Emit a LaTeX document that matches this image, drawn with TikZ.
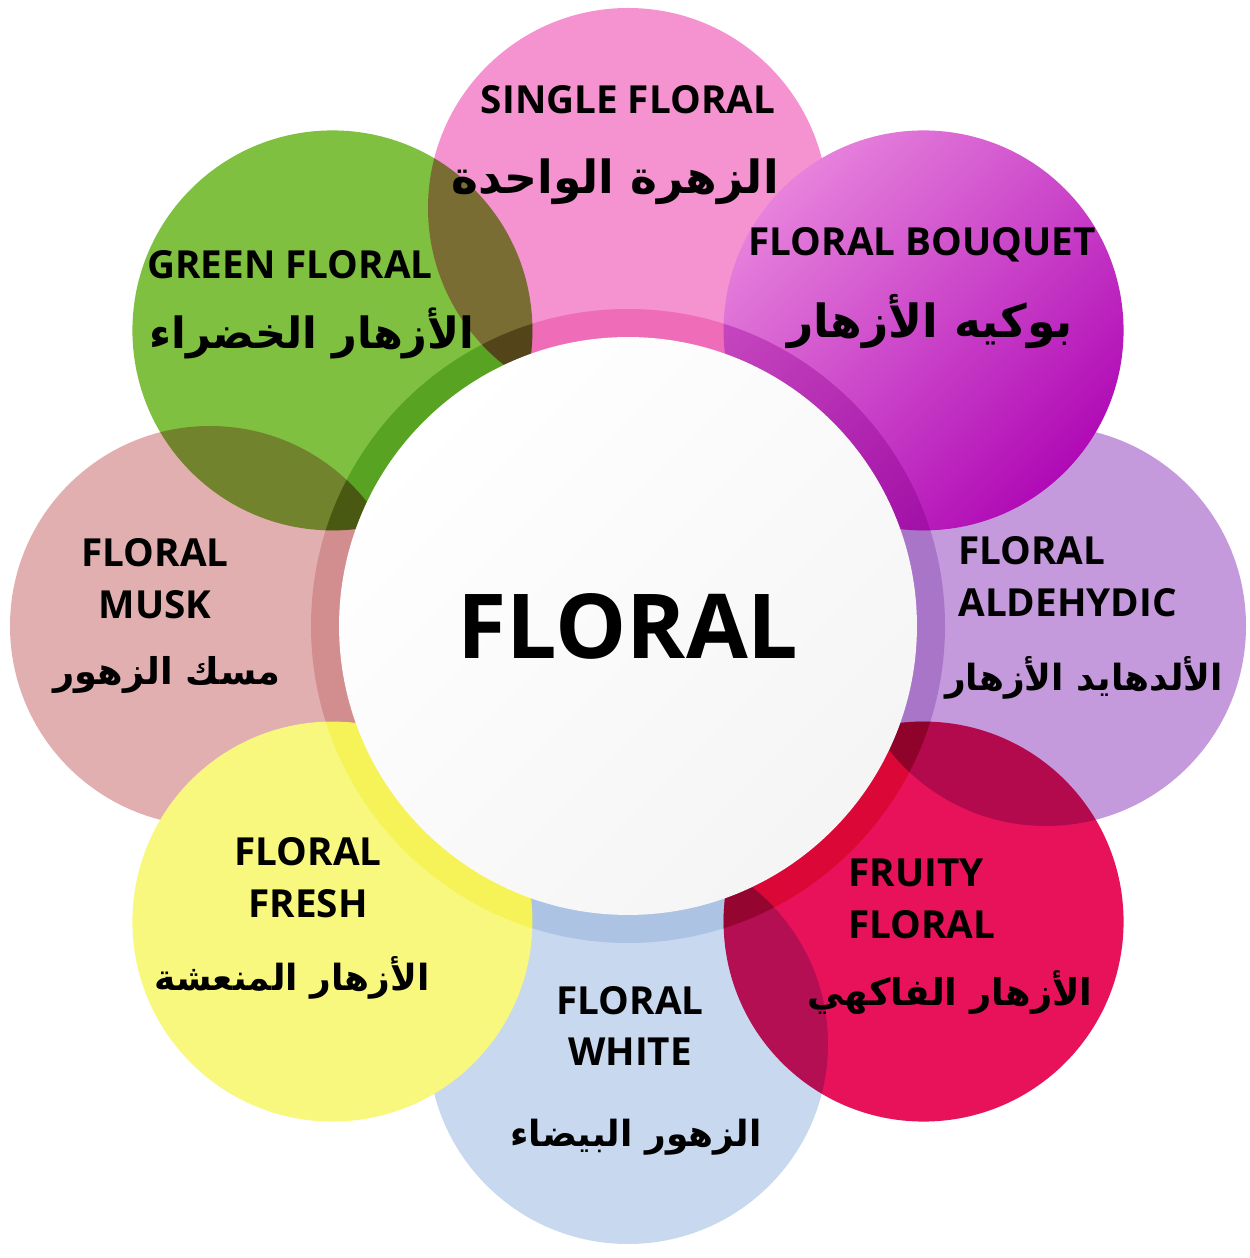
\documentclass[tikz,border=0pt]{standalone}
\usepackage{fontspec}
\setmainfont{Open Sans}
\newfontfamily\arabicfont[Script=Arabic]{DejaVu Sans}
\TeXXeTstate=1
\newcommand{\artxt}[1]{\beginR #1\endR}

\definecolor{pinkP}{HTML}{F592D0}
\definecolor{magL}{HTML}{E682DC}
\definecolor{magD}{HTML}{B00AB6}
\definecolor{magM}{HTML}{C640C8}
\definecolor{lavP}{HTML}{C49ADC}
\definecolor{redP}{HTML}{E8125A}
\definecolor{blueP}{HTML}{C8D8EE}
\definecolor{yelP}{HTML}{F9F87E}
\definecolor{roseP}{HTML}{E2AFB0}
\definecolor{greenP}{HTML}{80C040}

\tikzset{
  en/.style={font=\bfseries\fontsize{22}{29.5}\selectfont, align=center, inner sep=0pt},
  ar/.style={font=\arabicfont\bfseries\fontsize{#1}{30}\selectfont, inner sep=0pt},
  ar/.default=26,
  hub/.style={circle, minimum size=11.56cm, inner sep=0pt, left color=white, right color=black!4, shading angle=45, font=\bfseries\fontsize{51}{60}\selectfont}
}

\begin{document}
\begin{tikzpicture}[x=0.02cm, y=0.02cm]
  \useasboundingbox (0,0) rectangle (1249,1258);
  \fill[white] (0,0) rectangle (1249,1258);
  \coordinate (c) at (628,632);
  % petals, bottom to top
  \foreach \nm/\ang/\col/\bm in {single/90/pinkP/normal, aldehydic/0/lavP/normal, musk/180/roseP/normal, floralwhite/-90/blueP/normal, fresh/-135/yelP/normal, greenf/135/greenP/multiply, fruity/-45/redP/multiply}{
    \path (c) ++(\ang:418) coordinate (\nm);
    \fill[\col, blend mode=\bm] (\nm) circle (200);
    \begin{scope}
      \clip (\nm) circle (200);
      \fill[\col, blend mode=multiply, opacity=0.6] (c) circle (317);
    \end{scope}
  }
  \path (c) ++(45:418) coordinate (bouquet);
  \shade[top color=magL, bottom color=magD, shading angle=45] (bouquet) circle (200);
  \begin{scope}
    \clip (bouquet) circle (200);
    \fill[magM, blend mode=multiply, opacity=0.5] (c) circle (317);
  \end{scope}

  \node[hub] (hub) at (c) {FLORAL};

  % labels
  \node[en] (singleEn) at (628,1158) {SINGLE FLORAL};
  \node[ar] (singleAr) at (615,1076) {\artxt{الزهرة الواحدة}};
  \node[en] (greenEn) at (290,993) {GREEN FLORAL};
  \node[ar=24.5] (greenAr) at (312,925) {\artxt{الأزهار الخضراء}};
  \node[en] (bouquetEn) at (922,1013) {FLORAL BOUQUET};
  \node[ar] (bouquetAr) at (930,936) {\artxt{بوكيه الأزهار}};
  \node[en] (muskEn) at (155,679) {FLORAL\\MUSK};
  \node[ar=21] (muskAr) at (167,583) {\artxt{مسك الزهور}};
  \node[en, align=left, anchor=west] (aldEn) at (958,681) {FLORAL\\ALDEHYDIC};
  \node[ar=20.5] (aldAr) at (1084,580) {\artxt{الألدهايد الأزهار}};
  \node[en] (freshEn) at (308,380) {FLORAL\\FRESH};
  \node[ar=20.5] (freshAr) at (292,280) {\artxt{الأزهار المنعشة}};
  \node[en, align=left, anchor=west] (fruityEn) at (848,359) {FRUITY\\FLORAL};
  \node[ar=21] (fruityAr) at (950,265) {\artxt{الأزهار الفاكهي}};
  \node[en] (whiteEn) at (630,232) {FLORAL\\WHITE};
  \node[ar=20.5] (whiteAr) at (636,121) {\artxt{الزهور البيضاء}};
\end{tikzpicture}
\end{document}
